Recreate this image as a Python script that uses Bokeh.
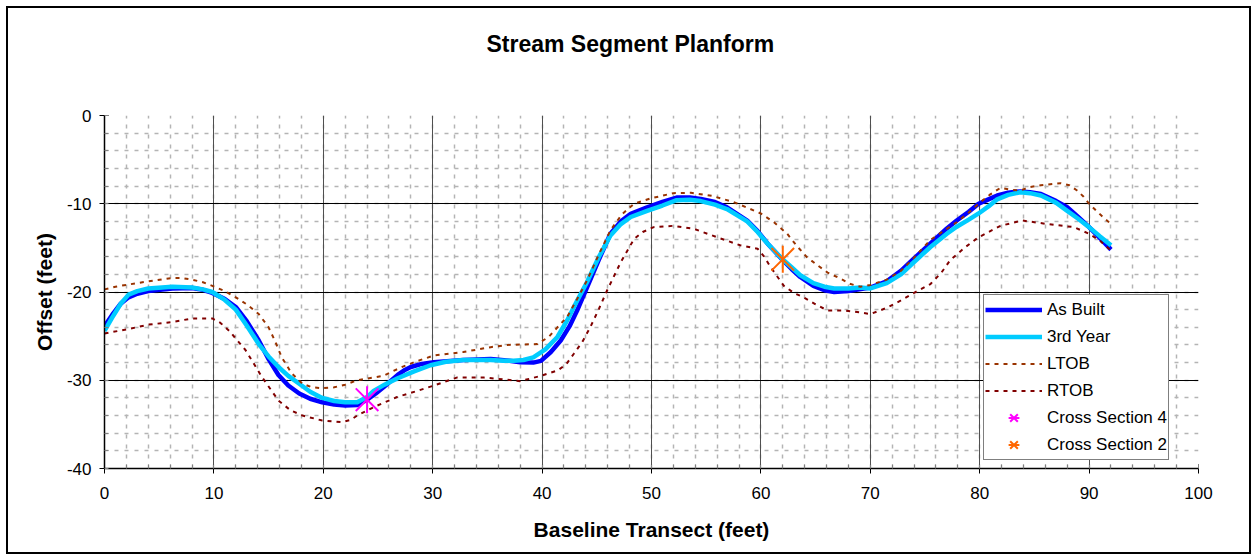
from bokeh.plotting import figure
from bokeh.models import Range1d, SingleIntervalTicker, Legend, LegendItem, Title
from bokeh.embed import file_html
from bokeh.resources import INLINE

# ---- data ----
asbuilt_x = [0, 0.7, 1.5, 2.2, 3, 4, 6.2, 8, 9, 9.85, 11, 12, 13, 14.1, 15, 15.9, 16.8, 17.8, 18.8,
             19.9, 21, 22, 23.1, 24, 24.8, 25.5, 26.8, 27.5, 28, 29, 30.1, 32.8, 35.3, 37, 38,
             39.2, 39.9, 40.8, 41.7, 42.5, 43.2, 44.1, 45.2, 46.25, 47.2, 48.1, 49.6, 51, 52.3,
             53.5, 54.5, 55.8, 56.9, 58.75, 59.7, 60.6, 61.9, 62.8, 63.6, 64.8, 65.8, 66.7, 68,
             70, 71.5, 72.8, 74, 75.5, 77, 77.9, 79, 79.9, 80.8, 81.6, 82.6, 83.7, 84.6, 85.6,
             87, 88, 89, 90, 91, 92]
asbuilt_y = [-23.9, -22.6, -21.3, -20.6, -20.2, -19.9, -19.6, -19.55, -19.75, -20.1, -20.8, -21.7,
             -23.3, -25.5, -27.6, -29.4, -30.6, -31.5, -32.1, -32.5, -32.75, -32.86, -32.8, -32.2,
             -31.5, -30.8, -29.4, -28.8, -28.5, -28.15, -27.95, -27.7, -27.6, -27.8, -27.95,
             -28.0, -27.8, -26.8, -25.5, -23.9, -22.1, -19.5, -16.3, -13.4, -12.0, -11.15, -10.4,
             -9.8, -9.3, -9.3, -9.45, -9.8, -10.4, -11.9, -13.1, -14.5, -16.25, -17.4, -18.3,
             -19.3, -19.8, -20.0, -19.9, -19.5, -18.8, -17.6, -16.2, -14.5, -12.8, -11.9, -10.9,
             -10.0, -9.5, -9.07, -8.75, -8.6, -8.7, -8.9, -9.7, -10.4, -11.5, -12.65, -13.9, -15.2]

year3_x = [0, 0.7, 1.5, 2.2, 3, 4, 6.2, 8, 9, 9.85, 11, 12, 13, 14.1, 15, 15.9, 16.8, 17.8, 18.8,
           19.9, 21, 22, 23.1, 24, 24.6, 25.6, 26.75, 28.3, 29.8, 31.2, 32.8, 35.3, 36.5, 37.4,
           38.3, 39.2, 40.3, 41.4, 42.3, 43.2, 44.1, 45.2, 46.25, 47.2, 48.1, 49.6, 51, 52.3,
           53.5, 54.5, 55.8, 56.9, 58.75, 59.7, 60.6, 61.9, 62.8, 63.6, 64.8, 65.8, 66.7, 68,
           69.1, 70, 71.5, 72.8, 74, 75.5, 77, 77.9, 79, 79.9, 80.8, 81.6, 82.6, 83.7, 84.6,
           85.6, 87, 88, 89, 90, 91, 92]
year3_y = [-24.4, -22.9, -21.3, -20.3, -19.9, -19.6, -19.4, -19.5, -19.7, -20.0, -20.9, -22.0,
           -23.8, -25.9, -27.3, -28.5, -29.5, -30.4, -31.3, -32.0, -32.35, -32.5, -32.5, -31.9,
           -31.2, -30.5, -29.8, -29.0, -28.3, -27.9, -27.7, -27.7, -27.8, -27.8, -27.7, -27.4,
           -26.5, -25.1, -23.2, -21.0, -18.9, -16.0, -13.6, -12.3, -11.5, -10.8, -10.2, -9.6,
           -9.55, -9.7, -10.1, -10.6, -12.0, -13.2, -14.5, -16.2, -17.2, -18.1, -19.0, -19.4,
           -19.6, -19.6, -19.5, -19.6, -19.0, -18.0, -16.6, -14.9, -13.4, -12.6, -11.8, -11.1,
           -10.3, -9.5, -9.0, -8.7, -8.8, -9.06, -9.9, -10.8, -11.7, -12.65, -13.7, -14.7]

ltob_x = [0, 1, 2.2, 4, 6.2, 7, 8, 9, 9.85, 11, 12, 13, 14.1, 15, 15.6, 16.2, 17.1, 18.1, 19,
          19.9, 21, 22, 23.1, 25.5, 27, 28.3, 30.1, 32.8, 35.3, 36.8, 39.55, 40.6, 41.4, 42.3,
          43.2, 44.1, 45.2, 46.25, 47.3, 48.4, 49.9, 52, 53.6, 55.5, 57.5, 60, 61.2, 62.4, 63.3,
          64.2, 65.2, 66.1, 67.3, 68.2, 69.1, 70, 71.5, 72.8, 74, 75.5, 76.8, 77.9, 79, 79.9,
          80.9, 81.9, 82.8, 83.7, 84.6, 85.6, 87.4, 88.2, 88.9, 89.5, 90, 91, 92]
ltob_y = [-19.7, -19.4, -19.15, -18.8, -18.4, -18.4, -18.6, -18.9, -19.3, -19.9, -20.6, -21.4,
          -22.5, -24.0, -25.6, -27.4, -29.2, -30.4, -30.8, -30.9, -30.8, -30.5, -30.0, -29.5,
          -28.6, -27.95, -27.2, -26.8, -26.25, -26.0, -25.9, -25.1, -24.0, -22.8, -20.8, -18.7,
          -15.7, -13.0, -11.2, -10.0, -9.4, -8.8, -8.76, -9.1, -9.8, -11.1, -12.1, -13.4, -14.8,
          -16.05, -17.0, -17.8, -18.5, -19.1, -19.4, -19.2, -18.6, -17.6, -16.1, -14.1, -13.0,
          -12.1, -11.0, -10.0, -9.0, -8.2, -8.4, -8.5, -8.1, -7.9, -7.67, -7.9, -8.5, -9.2,
          -10.0, -11.2, -12.3]

rtob_x = [0, 2.2, 4, 6.2, 8, 9.85, 10.6, 11.4, 12.9, 14.4, 15.9, 17, 18.1, 19.9, 21.7, 22.5,
          23.1, 24.6, 26.75, 28.6, 30.1, 32.2, 34.7, 36.5, 38, 39.9, 41.4, 42.2, 42.9, 43.7,
          44.4, 45.2, 45.95, 47.2, 48.4, 49.2, 50.2, 52, 53.9, 56, 58.1, 59.7, 60.3, 60.9, 62.1,
          63, 63.9, 65, 66.1, 67.6, 69, 70, 71.5, 72.8, 74, 75.5, 76.5, 77.3, 78.6, 79.9, 81.9,
          83.9, 86.2, 88.6, 90, 91, 92]
rtob_y = [-24.7, -24.2, -23.7, -23.4, -23.0, -23.0, -23.5, -24.4, -26.6, -29.65, -32.3, -33.4,
          -34.0, -34.56, -34.75, -34.5, -34.0, -33.05, -31.9, -31.2, -30.6, -29.7, -29.7, -29.9,
          -30.1, -29.5, -28.9, -28.2, -27.0, -25.6, -24.0, -21.9, -19.8, -16.6, -14.0, -13.2,
          -12.65, -12.5, -12.85, -13.8, -14.7, -15.1, -16.0, -17.2, -19.3, -20.1, -20.6, -21.4,
          -22.1, -22.1, -22.3, -22.5, -21.8, -20.96, -20.1, -19.1, -17.8, -16.4, -15.0, -13.8,
          -12.5, -11.9, -12.3, -12.65, -13.4, -14.2, -15.3]

xs4_x = [24]
xs4_y = [-32.2]
xs2_x = [62]
xs2_y = [-16.3]

x_ticks = [0, 10, 20, 30, 40, 50, 60, 70, 80, 90, 100]
y_ticks = [0, -10, -20, -30, -40]

FONT = "Liberation Sans"

p = figure(width=1245, height=548, output_backend="svg", toolbar_location=None,
           x_range=Range1d(0, 100), y_range=Range1d(-40, 0),
           min_border_left=96, min_border_right=55, min_border_top=107, min_border_bottom=88)
p.styles = {"border": "2px solid black", "margin": "6px 0 0 6px"}
p.outline_line_color = None
p.background_fill_color = "white"
p.border_fill_color = "white"

# chart title (the real one) plus an invisible spacer between it and the frame
p.title.text = "Stream Segment Planform"
p.title.align = "left"
p.title.offset = 382
p.title.standoff = 0
p.title.text_font = FONT
p.title.text_font_size = "23px"
p.title.text_font_style = "bold"
p.title.text_color = "black"
spacer = Title(text=" ", text_font_size="1px", standoff=56)
p.add_layout(spacer, "above")

for ax, ticks in ((p.xaxis, x_ticks), (p.yaxis, y_ticks)):
    ax.ticker = SingleIntervalTicker(interval=10, num_minor_ticks=5)
    ax.major_label_overrides = {t: str(t) for t in ticks}
    ax.axis_line_color = "black"
    ax.axis_line_width = 1.5
    ax.major_tick_line_color = "black"
    ax.major_tick_in = 4
    ax.major_tick_out = 5
    ax.minor_tick_line_color = "#808080"
    ax.minor_tick_in = 4
    ax.minor_tick_out = 0
    ax.major_label_text_font = FONT
    ax.major_label_text_font_size = "17px"
    ax.major_label_text_color = "black"
    ax.axis_label_text_font = FONT
    ax.axis_label_text_font_size = "21px"
    ax.axis_label_text_font_style = "bold"
    ax.axis_label_text_color = "black"

p.xaxis.axis_label = "Baseline Transect (feet)"
p.yaxis.axis_label = "Offset (feet)"
p.xaxis.major_label_standoff = 13
p.xaxis.axis_label_standoff = 16
p.yaxis.major_label_standoff = 8
p.yaxis.axis_label_standoff = 8

p.xgrid.grid_line_color = "#505050"
p.ygrid.grid_line_color = "black"
p.xgrid.grid_line_width = 1
p.ygrid.grid_line_width = 1
for g in (p.xgrid, p.ygrid):
    g.minor_grid_line_color = "#b4b4b4"
    g.minor_grid_line_width = 1.5
    g.minor_grid_line_dash = "4 6"

r_ab = p.line(asbuilt_x, asbuilt_y, line_color="#0000FF", line_width=4.5, line_join="round")
r_y3 = p.line(year3_x, year3_y, line_color="#00CCFF", line_width=4.5, line_join="round")
r_lt = p.line(ltob_x, ltob_y, line_color="#993300", line_width=2, line_dash="4 5")
r_rt = p.line(rtob_x, rtob_y, line_color="#800000", line_width=2, line_dash="4 5")
r_x4a = p.scatter(xs4_x, xs4_y, marker="x", size=32, line_color="#FF00FF", line_width=2)
r_x4b = p.scatter(xs4_x, xs4_y, marker="dash", size=27, angle=1.5708, line_color="#FF00FF", line_width=2)
r_x2a = p.scatter(xs2_x, xs2_y, marker="x", size=32, line_color="#FF6600", line_width=2)
r_x2b = p.scatter(xs2_x, xs2_y, marker="dash", size=27, angle=1.5708, line_color="#FF6600", line_width=2)

legend = Legend(items=[
    LegendItem(label="As Built", renderers=[r_ab]),
    LegendItem(label="3rd Year", renderers=[r_y3]),
    LegendItem(label="LTOB", renderers=[r_lt]),
    LegendItem(label="RTOB", renderers=[r_rt]),
    LegendItem(label="Cross Section 4", renderers=[r_x4a, r_x4b]),
    LegendItem(label="Cross Section 2", renderers=[r_x2a, r_x2b]),
], location=(879, 8))
legend.label_text_font = FONT
legend.label_text_font_size = "17px"
legend.label_text_color = "black"
legend.glyph_width = 57
legend.glyph_height = 27
legend.label_height = 27
legend.label_standoff = 5
legend.spacing = 0
legend.padding = 1
legend.margin = 0
legend.border_line_color = "black"
legend.border_line_width = 1
legend.background_fill_color = "white"
legend.background_fill_alpha = 1
p.add_layout(legend, "center")

open("out.html", "w").write(file_html(p, INLINE))
